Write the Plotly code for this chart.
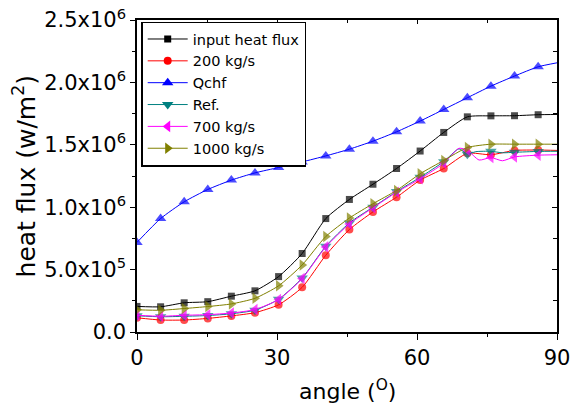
import plotly.graph_objects as go

# ---- data ----
angle_markers = [0.00, 5.06, 10.11, 15.17, 20.22, 25.28, 30.34, 35.39, 40.45,
                 45.51, 50.56, 55.62, 60.67, 65.73, 70.79, 75.84, 80.90, 85.96]
angle_end = 90.0

input_flux = [0.205, 0.202, 0.234, 0.243, 0.287, 0.330, 0.444, 0.629, 0.909,
              1.062, 1.184, 1.310, 1.450, 1.599, 1.724, 1.732, 1.733, 1.741]
input_flux_end = 1.743

flux_200 = [0.114, 0.096, 0.096, 0.109, 0.129, 0.155, 0.218, 0.358, 0.615,
            0.821, 0.962, 1.080, 1.217, 1.310, 1.432, 1.420, 1.455, 1.458]
flux_200_end = 1.455

qchf = [0.718, 0.909, 1.043, 1.142, 1.217, 1.275, 1.318, 1.363, 1.411,
        1.465, 1.529, 1.604, 1.690, 1.783, 1.877, 1.970, 2.051, 2.125]
qchf_end = 2.157

ref = [0.130, 0.122, 0.126, 0.132, 0.146, 0.175, 0.262, 0.432, 0.687,
       0.874, 1.000, 1.125, 1.240, 1.365, 1.425, 1.448, 1.440, 1.447]
ref_end = 1.448
ref_extra_angle = [69.0, 72.6, 78.3]
ref_extra = [1.468, 1.445, 1.436]

flux_700 = [0.134, 0.126, 0.134, 0.139, 0.152, 0.180, 0.260, 0.428, 0.682,
            0.866, 0.995, 1.120, 1.228, 1.352, 1.457, 1.398, 1.403, 1.417]
flux_700_end = 1.420
flux_700_extra_angle = [69.0, 73.3, 78.3]
flux_700_extra = [1.472, 1.378, 1.372]

flux_1000 = [0.178, 0.174, 0.188, 0.204, 0.225, 0.270, 0.370, 0.537, 0.765,
             0.913, 1.028, 1.134, 1.268, 1.375, 1.478, 1.505, 1.505, 1.505]
flux_1000_end = 1.505

scale = 1e6

y_tickvals = [0, 0.5e6, 1.0e6, 1.5e6, 2.0e6, 2.5e6]
y_ticktext = ["0.0", "5.0x10<sup>5</sup>", "1.0x10<sup>6</sup>", "1.5x10<sup>6</sup>",
              "2.0x10<sup>6</sup>", "2.5x10<sup>6</sup>"]
x_tickvals = [0, 30, 60, 90]

FONT = "DejaVu Sans, sans-serif"

series = [
    ("input heat flux", input_flux, input_flux_end, [], [], "#000000", "square", 7),
    ("200 kg/s", flux_200, flux_200_end, [], [], "#ff0000", "circle", 8),
    ("Qchf", qchf, qchf_end, [], [], "#0000ff", "triangle-up", 10),
    ("Ref.", ref, ref_end, ref_extra_angle, ref_extra, "#008080", "triangle-down", 10),
    ("700 kg/s", flux_700, flux_700_end, flux_700_extra_angle, flux_700_extra, "#ff00ff", "triangle-left", 10),
    ("1000 kg/s", flux_1000, flux_1000_end, [], [], "#808000", "triangle-right", 10),
]

fig = go.Figure()

for name, vals, end, ex_a, ex_v, color, sym, msize in series:
    pts = [(a, v, msize) for a, v in zip(angle_markers, vals)]
    pts += [(a, v, 0) for a, v in zip(ex_a, ex_v)]
    pts.append((angle_end, end, 0))
    pts.sort(key=lambda p: p[0])
    fig.add_trace(go.Scatter(
        x=[p[0] for p in pts], y=[p[1] * scale for p in pts],
        mode="lines+markers", showlegend=False, hoverinfo="skip",
        line=dict(color=color, width=1, shape="spline", smoothing=0.6),
        marker=dict(symbol=sym, color=color, size=[p[2] for p in pts],
                    line=dict(width=0)),
    ))

# legend proxies
for name, vals, end, ex_a, ex_v, color, sym, msize in series:
    fig.add_trace(go.Scatter(
        x=[None], y=[None], name=name, mode="lines+markers",
        line=dict(color=color, width=1),
        marker=dict(symbol=sym, color=color, size=msize, line=dict(width=0)),
    ))

# helper trace for the top/right (inside-tick) axes
fig.add_trace(go.Scatter(x=[None], y=[None], xaxis="x2", yaxis="y2",
                         showlegend=False, hoverinfo="skip"))

fig.update_layout(
    width=571, height=410,
    margin=dict(l=137, r=14, t=20, b=78, autoexpand=False),
    paper_bgcolor="white", plot_bgcolor="white",
    font=dict(family=FONT, size=21, color="black"),
    showlegend=True,
    legend=dict(x=0.01, y=0.995, xanchor="left", yanchor="top",
                bgcolor="white", bordercolor="black", borderwidth=1.5,
                font=dict(family=FONT, size=14.5, color="black"),
                tracegroupgap=0, itemsizing="trace", itemwidth=40),
    xaxis=dict(range=[0, 90], showgrid=False, zeroline=False, automargin=False,
               showline=True, linecolor="black", linewidth=1.5, mirror=True,
               tickvals=x_tickvals, ticks="outside", ticklen=6, tickwidth=1.2,
               tickcolor="black", tickfont=dict(family=FONT, size=21),
               minor=dict(dtick=15, tick0=0, ticks="outside", ticklen=3,
                          tickwidth=1.2, tickcolor="black", showgrid=False)),
    yaxis=dict(range=[0, 2.5e6], showgrid=False, zeroline=False, automargin=False,
               showline=True, linecolor="black", linewidth=1.5, mirror=True,
               tickvals=y_tickvals, ticktext=y_ticktext,
               ticks="outside", ticklen=5, tickwidth=1.2, tickcolor="black",
               tickfont=dict(family=FONT, size=21),
               minor=dict(dtick=0.25e6, tick0=0, ticks="outside", ticklen=3,
                          tickwidth=1.2, tickcolor="black", showgrid=False)),
    xaxis2=dict(range=[0, 90], overlaying="x", side="top", showgrid=False,
                zeroline=False, showline=False, showticklabels=False, automargin=False,
                tickvals=x_tickvals, ticks="inside", ticklen=4, tickwidth=1.2,
                tickcolor="black",
                minor=dict(dtick=15, tick0=0, ticks="inside", ticklen=3,
                           tickwidth=1.2, tickcolor="black", showgrid=False)),
    yaxis2=dict(range=[0, 2.5e6], overlaying="y", side="right", showgrid=False,
                zeroline=False, showline=False, showticklabels=False, automargin=False,
                tickvals=y_tickvals, ticks="inside", ticklen=5, tickwidth=1.2,
                tickcolor="black",
                minor=dict(dtick=0.25e6, tick0=0, ticks="inside", ticklen=4,
                           tickwidth=1.2, tickcolor="black", showgrid=False)),
    annotations=[
        dict(text="angle (<sup>O</sup>)", xref="paper", yref="paper",
             x=0.5, y=-0.186, xanchor="center", yanchor="middle",
             showarrow=False, font=dict(family=FONT, size=22, color="black")),
        dict(text="heat flux (w/m<sup>2</sup>)", xref="paper", yref="paper",
             x=-0.268, y=0.5, xanchor="center", yanchor="middle", textangle=-90,
             showarrow=False, font=dict(family=FONT, size=25, color="black")),
    ],
)

fig.write_html("out.html")
